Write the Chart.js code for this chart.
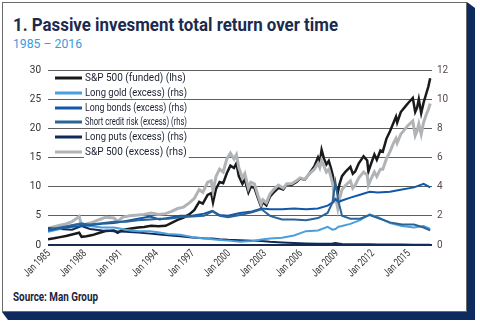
<!DOCTYPE html>
<html>
<head>
<meta charset="utf-8">
<script src="https://cdn.jsdelivr.net/npm/chart.js@4"></script>
<style>
  body { margin: 0; background: #fff; width: 480px; height: 322px; position: relative; overflow: hidden; }
  .shadow {
    position: absolute; left: 2px; top: 2px; width: 473px; height: 318px; background: #0d2b5e;
    clip-path: polygon(465px 0, 473px 6px, 473px 318px, 6px 318px, 0 310px);
  }
  .card {
    position: absolute; left: 2px; top: 2px; width: 465px; height: 310px; box-sizing: border-box;
    background: #fff; border: 1px solid #6a6a6a;
  }
  .title {
    position: absolute; left: 13px; top: 13px; margin: 0; white-space: nowrap; line-height: 1;
    font: bold 19px Roboto, sans-serif; color: #1b2a4e; transform-origin: left top;
  }
  .sub {
    position: absolute; left: 13px; top: 36px; white-space: nowrap; line-height: 1;
    font: 13px Roboto, sans-serif; color: #3d9ad8; transform-origin: left top;
  }
  .source {
    position: absolute; left: 13px; top: 290px; white-space: nowrap; line-height: 1;
    font: bold 12px Roboto, sans-serif; color: #1b2440; transform-origin: left top;
  }
  #chart { position: absolute; left: 0; top: 56px; }
</style>
</head>
<body>
<div class="shadow"></div>
<div class="card"></div>
<h1 class="title" data-w="325">1. Passive invesment total return over time</h1>
<div class="sub" data-w="69">1985 – 2016</div>
<div class="source" data-w="85">Source: Man Group</div>
<canvas id="chart" width="466" height="234"></canvas>
<script>
/* S&P series (shared dates, decimal years) */
const spYears = [1985, 1985.5, 1986, 1986.5, 1987, 1987.6, 1987.8, 1988.2, 1988.7, 1989.3, 1989.8, 1990.5, 1990.8,
  1991.2, 1991.8, 1992.5, 1993, 1993.6, 1994.2, 1994.8, 1995.3, 1995.8, 1996.3, 1996.8, 1997.2, 1997.6, 1997.9,
  1998.3, 1998.6, 1998.75, 1999, 1999.3, 1999.6, 1999.9, 2000.2, 2000.5, 2000.7, 2000.9, 2001.2, 2001.4, 2001.7,
  2001.9, 2002.2, 2002.5, 2002.75, 2002.9, 2003.2, 2003.5, 2003.8, 2004.2, 2004.6, 2004.9, 2005.3, 2005.7, 2006,
  2006.4, 2006.8, 2007.2, 2007.5, 2007.65, 2007.8, 2008, 2008.2, 2008.4, 2008.6, 2008.75, 2008.85, 2009, 2009.15,
  2009.3, 2009.5, 2009.8, 2010.2, 2010.4, 2010.6, 2010.9, 2011.3, 2011.6, 2011.7, 2011.9, 2012.2, 2012.4, 2012.7,
  2012.9, 2013.2, 2013.5, 2013.8, 2014, 2014.1, 2014.4, 2014.8, 2015, 2015.4, 2015.6, 2015.75, 2015.9, 2016.1,
  2016.3, 2016.5, 2016.7, 2016.85];
const spFunded = [1.0, 1.15, 1.35, 1.55, 1.8, 2.1, 1.4, 1.5, 1.7, 2.1, 2.4, 2.5, 2.1,
  2.6, 2.8, 3.0, 3.1, 3.3, 3.2, 3.3, 3.8, 4.3, 4.7, 5.3, 6.0, 7.4, 7.1,
  8.6, 8.9, 7.3, 9.6, 10.8, 10.6, 12.3, 13.6, 13.2, 14.0, 11.8, 10.5, 11.2, 9.0,
  10.0, 9.8, 8.0, 6.6, 7.4, 6.8, 8.3, 9.0, 9.8, 9.5, 10.4, 10.3, 10.8, 11.4,
  11.2, 12.3, 13.5, 15.0, 14.2, 16.3, 14.8, 13.8, 14.4, 13.0, 11.8, 9.8, 10.0, 9.0,
  10.5, 11.8, 12.6, 13.4, 12.2, 12.6, 14.0, 15.2, 14.5, 12.6, 13.8, 15.5, 14.6, 16.2,
  16.0, 18.2, 19.5, 21.0, 22.0, 21.0, 22.8, 23.8, 24.3, 25.2, 22.8, 23.5, 25.0, 22.6,
  24.4, 25.8, 27.2, 28.6];
const spExcess = [1.15, 1.25, 1.35, 1.45, 1.6, 1.95, 1.35, 1.45, 1.55, 1.75, 1.9, 1.85, 1.6,
  1.9, 2.0, 2.05, 2.1, 2.2, 2.1, 2.15, 2.3, 2.5, 2.6, 2.9, 3.2, 3.8, 3.6,
  4.3, 4.4, 3.7, 4.7, 5.2, 5.0, 5.9, 6.3, 5.9, 6.2, 5.3, 4.6, 4.9, 3.9,
  4.3, 4.2, 3.4, 2.8, 3.1, 2.9, 3.5, 3.8, 4.1, 3.9, 4.2, 4.2, 4.4, 4.6,
  4.5, 4.9, 5.2, 5.6, 5.3, 5.8, 5.4, 5.0, 5.2, 4.6, 4.1, 3.0, 3.1, 2.5,
  3.2, 3.8, 4.1, 4.4, 3.9, 4.1, 4.6, 5.0, 4.8, 4.1, 4.5, 5.0, 4.7, 5.2,
  5.2, 5.9, 6.4, 7.0, 7.3, 7.0, 7.6, 8.0, 8.2, 8.5, 7.5, 7.8, 8.3, 7.6,
  8.4, 8.9, 9.3, 9.7];

/* other strategies (shared dates) */
const otherYears = [1985, 1986, 1987, 1987.8, 1988.5, 1989.5, 1990.5, 1991.5, 1992.5, 1993.5, 1994.3, 1995, 1996,
  1997, 1998, 1998.7, 1999.3, 2000, 2001, 2002, 2002.8, 2003.5, 2004.5, 2005.5, 2006.5, 2007.5, 2008.3, 2008.7,
  2008.95, 2009.2, 2009.5, 2010.2, 2011, 2011.8, 2012.5, 2013.5, 2014.5, 2015.5, 2016.3, 2016.85];
const longGold = [0.9, 1.1, 1.35, 1.5, 1.3, 1.2, 1.2, 1.05, 0.95, 0.95, 0.85, 0.75, 0.7,
  0.55, 0.45, 0.4, 0.35, 0.3, 0.22, 0.28, 0.38, 0.45, 0.5, 0.65, 0.95, 1.0, 1.25, 1.05,
  1.1, 1.25, 1.3, 1.45, 1.7, 2.1, 1.9, 1.5, 1.3, 1.2, 1.3, 1.1];
const longBonds = [1.0, 1.15, 1.25, 1.3, 1.35, 1.45, 1.5, 1.65, 1.8, 1.95, 1.75, 1.85, 2.0,
  2.0, 2.15, 2.35, 2.05, 2.0, 2.2, 2.3, 2.5, 2.45, 2.45, 2.5, 2.45, 2.5, 2.7, 2.9,
  3.15, 2.95, 3.05, 3.25, 3.45, 3.65, 3.6, 3.65, 3.8, 3.95, 4.2, 3.95];
const shortCredit = [1.05, 1.2, 1.35, 1.45, 1.4, 1.5, 1.6, 1.6, 1.7, 1.75, 1.8, 1.8, 1.9,
  1.95, 2.0, 2.3, 2.0, 1.9, 2.05, 2.25, 2.45, 2.0, 1.75, 1.75, 1.7, 1.85, 2.2, 2.9,
  4.3, 3.0, 2.0, 1.8, 1.8, 2.05, 1.85, 1.55, 1.4, 1.4, 1.2, 1.0];
const longPuts = [1.15, 1.1, 1.05, 1.3, 1.1, 1.0, 0.95, 0.9, 0.85, 0.78, 0.72, 0.66, 0.6,
  0.52, 0.46, 0.45, 0.4, 0.36, 0.33, 0.3, 0.28, 0.22, 0.17, 0.13, 0.1, 0.08, 0.08, 0.1,
  0.14, 0.1, 0.07, 0.06, 0.05, 0.05, 0.04, 0.03, 0.03, 0.02, 0.02, 0.02];

const xTickYears = [1985, 1988, 1991, 1994, 1997, 2000, 2003, 2006, 2009, 2012, 2015];
const font = 'Roboto, sans-serif';

// squeeze the html texts to the reference widths (the original face is a condensed DIN)
document.querySelectorAll('[data-w]').forEach((el) => {
  const w = el.getBoundingClientRect().width;
  el.style.transform = `scaleX(${el.dataset.w / w})`;
});

const pts = (xs, ys) => xs.map((x, i) => ({ x: x, y: ys[i] }));

const series = [
  { label: 'S&P 500 (funded) (lhs)', data: pts(spYears, spFunded), color: '#1a1a1a', width: 2.5, axis: 'yL', order: 6 },
  { label: 'Long gold (excess) (rhs)', data: pts(otherYears, longGold), color: '#4a9fdc', width: 2, axis: 'yR', order: 3 },
  { label: 'Long bonds (excess) (rhs)', data: pts(otherYears, longBonds), color: '#1257a8', width: 2, axis: 'yR', order: 2 },
  { label: 'Short credit risk (excess) (rhs)', data: pts(otherYears, shortCredit), color: '#2a6496', width: 2, axis: 'yR', order: 1 },
  { label: 'Long puts (excess) (rhs)', data: pts(otherYears, longPuts), color: '#0f2b5b', width: 2, axis: 'yR', order: 4 },
  { label: 'S&P 500 (excess) (rhs)', data: pts(spYears, spExcess), color: '#b1b4b7', width: 3, axis: 'yR', order: 5 },
];

/* legend inside the plot + narrow rotated date labels */
const extras = {
  id: 'extras',
  afterDatasetsDraw(chart) {
    const ctx = chart.ctx;
    const rows = [78, 93, 108, 122, 137, 152];
    ctx.save();
    series.forEach((s, i) => {
      const y = rows[i] - 56;
      ctx.strokeStyle = s.color;
      ctx.lineWidth = 3;
      ctx.beginPath();
      ctx.moveTo(55, y);
      ctx.lineTo(82, y);
      ctx.stroke();
      ctx.font = '10px ' + font;
      const w = Math.min(ctx.measureText(s.label).width, 102);
      ctx.fillStyle = '#fff';
      ctx.fillRect(84, y - 6, w + 3, 12);
      ctx.fillStyle = '#1d2233';
      ctx.textBaseline = 'middle';
      ctx.fillText(s.label, 85, y, 102);
    });

    const xs = chart.scales.x;
    const top = chart.chartArea.bottom + 7;
    ctx.font = '11px ' + font;
    ctx.fillStyle = '#333';
    ctx.textAlign = 'right';
    ctx.textBaseline = 'middle';
    xTickYears.forEach((yr) => {
      ctx.save();
      ctx.translate(xs.getPixelForValue(yr) + 1, top);
      ctx.rotate(-Math.PI / 4);
      ctx.fillText('Jan ' + yr, 0, 0, 33);
      ctx.restore();
    });
    ctx.restore();
  },
};

new Chart(document.getElementById('chart'), {
  type: 'line',
  data: {
    datasets: series.map((s) => ({
      label: s.label,
      data: s.data,
      borderColor: s.color,
      backgroundColor: s.color,
      borderWidth: s.width,
      pointRadius: 0,
      tension: 0,
      yAxisID: s.axis,
      order: s.order,
    })),
  },
  options: {
    responsive: false,
    animation: false,
    layout: { padding: { top: 14 } },
    plugins: { legend: { display: false }, tooltip: { enabled: false } },
    scales: {
      x: {
        type: 'linear',
        min: 1985,
        max: 2017,
        afterBuildTicks: (scale) => { scale.ticks = xTickYears.map((v) => ({ value: v })); },
        afterFit: (scale) => { scale.height = 45; },
        grid: { display: false },
        border: { display: false },
        ticks: { display: false },
      },
      yL: {
        position: 'left',
        min: 0,
        max: 30,
        afterFit: (scale) => { scale.width = 48; },
        ticks: { stepSize: 5, padding: 7, color: '#333', font: { family: font, size: 10 } },
        grid: {
          drawTicks: false,
          color: (c) => (c.tick.value === 0 ? '#1b2a4e' : '#4d4d4d'),
          lineWidth: (c) => (c.tick.value === 0 ? 2 : 0.9),
        },
        border: { display: false },
      },
      yR: {
        position: 'right',
        min: 0,
        max: 12,
        afterFit: (scale) => { scale.width = 34; },
        ticks: { stepSize: 2, padding: 5, color: '#5a4a48', font: { family: font, size: 10 } },
        grid: { display: false, drawTicks: false },
        border: { display: false },
      },
    },
  },
  plugins: [extras],
});
</script>
</body>
</html>
